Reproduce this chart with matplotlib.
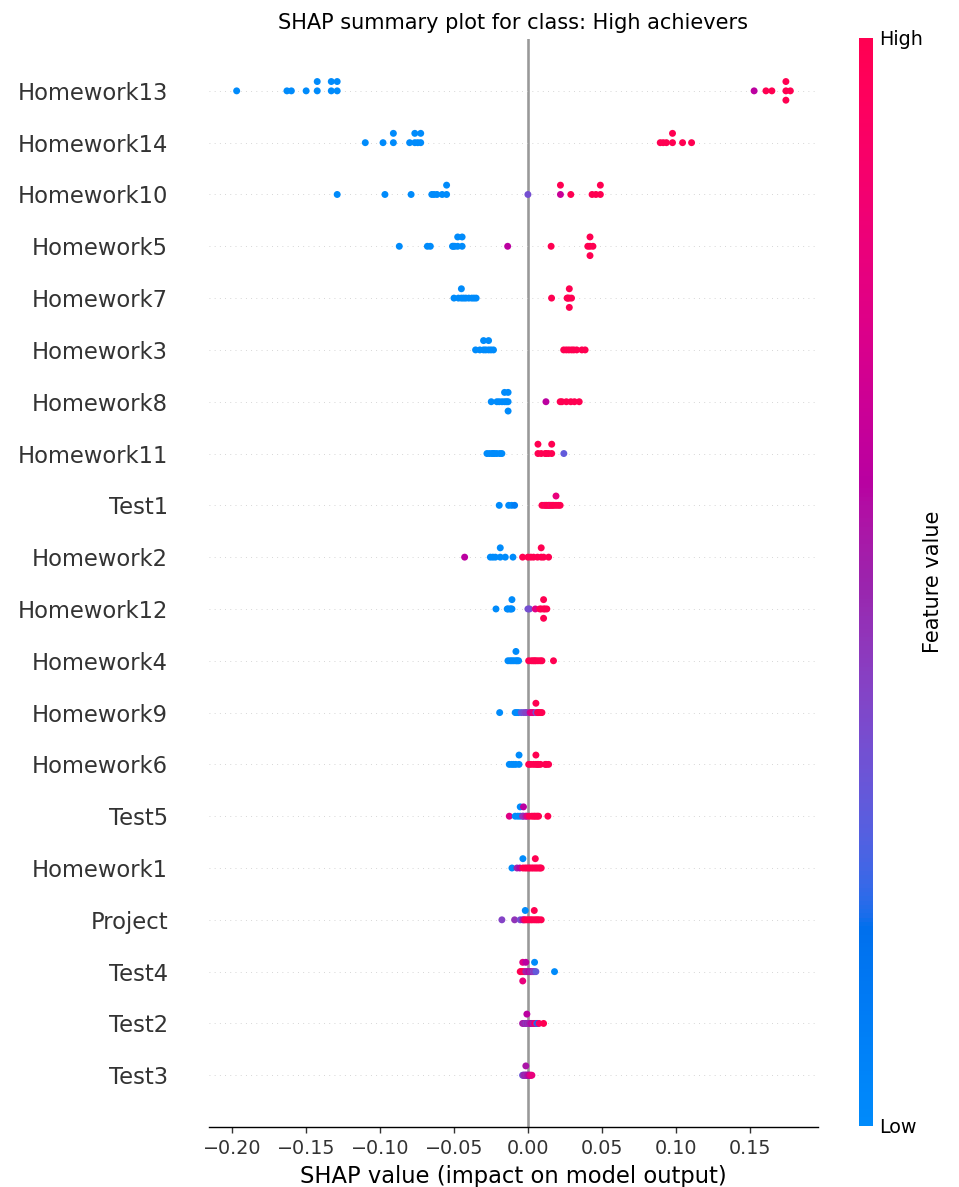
import numpy as np
import matplotlib
matplotlib.use("Agg")
import matplotlib.pyplot as plt
import matplotlib.cm as cm
from matplotlib.colors import LinearSegmentedColormap

# features, top row first
features = ["Homework13", "Homework14", "Homework10", "Homework5", "Homework7",
            "Homework3", "Homework8", "Homework11", "Test1", "Homework2",
            "Homework12", "Homework4", "Homework9", "Homework6", "Test5",
            "Homework1", "Project", "Test4", "Test2", "Test3"]

# shap values and (normalised) feature values, one pair per feature
hw13_shap = [-0.197, -0.163, -0.160, -0.150, -0.1425, -0.1425, -0.133, -0.133, -0.129, -0.129,
             0.153, 0.161, 0.165, 0.1745, 0.1745, 0.1745, 0.1775]
hw13_val = [0, 0, 0, 0, 0, 0, 0, 0, 0, 0, 0.6, 1, 1, 1, 1, 1, 1]

hw14_shap = [-0.110, -0.098, -0.091, -0.091, -0.080, -0.0765, -0.0765, -0.0745, -0.0725, -0.0725,
             0.0895, 0.0915, 0.0937, 0.0978, 0.0978, 0.1046, 0.1107]
hw14_val = [0, 0, 0, 0, 0, 0, 0, 0, 0, 0, 1, 1, 1, 1, 1, 1, 1]

hw10_shap = [-0.129, -0.0967, -0.079, -0.065, -0.0635, -0.0615, -0.058, -0.055, -0.055,
             0.0, 0.022, 0.022, 0.029, 0.0434, 0.046, 0.049, 0.049]
hw10_val = [0, 0, 0, 0, 0, 0, 0, 0, 0, 0.35, 0.65, 1, 1, 1, 1, 1, 1]

hw5_shap = [-0.087, -0.068, -0.066, -0.051, -0.0505, -0.0495, -0.0475, -0.0475, -0.0445, -0.0445,
            -0.0137, 0.0157, 0.0405, 0.042, 0.042, 0.042, 0.044]
hw5_val = [0, 0, 0, 0, 0, 0, 0, 0, 0, 0, 0.6, 1, 1, 1, 1, 1, 1]

hw7_shap = [-0.050, -0.047, -0.045, -0.045, -0.0435, -0.042, -0.040, -0.038, -0.0365, -0.035,
            0.016, 0.0265, 0.027, 0.028, 0.028, 0.028, 0.0295]
hw7_val = [0, 0, 0, 0, 0, 0, 0, 0, 0, 0, 1, 1, 1, 1, 1, 1, 1]

hw3_shap = [-0.0354, -0.0325, -0.030, -0.030, -0.0285, -0.0266, -0.0266, -0.025, -0.0233,
            0.0242, 0.026, 0.0277, 0.0295, 0.031, 0.033, 0.0365, 0.0387]
hw3_val = [0, 0, 0, 0, 0, 0, 0, 0, 0, 1, 1, 1, 1, 1, 1, 1, 1]

hw8_shap = [-0.0248, -0.021, -0.0194, -0.0175, -0.0158, -0.0158, -0.0145, -0.0134, -0.0134, -0.0134,
            0.0122, 0.0218, 0.023, 0.026, 0.029, 0.0315, 0.0347]
hw8_val = [0, 0, 0, 0, 0, 0, 0, 0, 0, 0, 0.6, 1, 1, 1, 1, 1, 1]

hw11_shap = [-0.0277, -0.026, -0.0243, -0.0235, -0.0225, -0.021, -0.019, -0.0176,
             0.0068, 0.0068, 0.009, 0.0117, 0.0125, 0.014, 0.0161, 0.0161, 0.0243]
hw11_val = [0, 0, 0, 0, 0, 0, 0, 0, 1, 1, 1, 1, 1, 1, 1, 1, 0.3]

test1_shap = [-0.0194, -0.013, -0.011, -0.009,
              0.0095, 0.011, 0.012, 0.0128, 0.014, 0.0145, 0.0155, 0.0165, 0.0175, 0.019, 0.019, 0.0205, 0.0218]
test1_val = [0, 0, 0, 0.1, 1, 1, 0.9, 1, 1, 1, 0.9, 1, 1, 1, 0.8, 1, 1]

hw2_shap = [-0.0428, -0.0254, -0.0237, -0.022, -0.0187, -0.0187, -0.0153, -0.0101,
            -0.0036, 0.0, 0.002, 0.0038, 0.0065, 0.009, 0.009, 0.0106, 0.014]
hw2_val = [0.6, 0, 0, 0, 0, 0, 0, 0, 1, 1, 1, 1, 1, 1, 1, 1, 1]

hw12_shap = [-0.0216, -0.014, -0.0135, -0.0122, -0.0115, -0.0108, -0.0108,
             0.0, 0.0011, 0.005, 0.008, 0.009, 0.0106, 0.0106, 0.0106, 0.0115, 0.0128]
hw12_val = [0, 0, 0, 0, 0, 0, 0, 0.35, 0.35, 0.75, 1, 1, 1, 1, 1, 1, 1]

hw4_shap = [-0.0135, -0.012, -0.0108, -0.0095, -0.0081, -0.0081, -0.0072, -0.0063,
            0.0005, 0.0023, 0.0035, 0.0045, 0.0054, 0.0068, 0.0083, 0.0095, 0.0173]
hw4_val = [0, 0, 0, 0, 0, 0, 0, 0, 1, 1, 1, 1, 1, 1, 1, 1, 1]

hw9_shap = [-0.0191, -0.0086, -0.0075, -0.0063, -0.0045, -0.0029, -0.0015, -0.0007,
            0.0015, 0.0028, 0.0038, 0.0054, 0.0054, 0.0065, 0.0072, 0.0083, 0.0095]
hw9_val = [0, 0, 0, 0, 0.3, 0.35, 0.4, 0.4, 0.7, 0.75, 0.8, 0.35, 1, 1, 1, 1, 1]

hw6_shap = [-0.0126, -0.011, -0.0097, -0.0082, -0.006, -0.006,
            0.0005, 0.002, 0.0038, 0.0054, 0.0054, 0.0065, 0.0072, 0.0085, 0.0117, 0.0125, 0.014]
hw6_val = [0, 0, 0, 0, 0, 0, 1, 1, 1, 1, 1, 1, 1, 1, 1, 1, 1]

test5_shap = [-0.0126, -0.0086, -0.0068, -0.0052, -0.0052, -0.0036, -0.003, -0.003, -0.0015,
              -0.0007, 0.001, 0.0027, 0.004, 0.005, 0.0062, 0.0072, 0.0135]
test5_val = [0.75, 0, 0, 0, 0, 0.45, 0.45, 0.6, 0.5, 0.75, 1, 1, 1, 1, 1, 1, 1]

hw1_shap = [-0.0108, -0.0074, -0.0055, -0.0034, -0.0034, -0.002, -0.0008, 0.0005, 0.0015,
            0.0027, 0.0038, 0.005, 0.005, 0.006, 0.0072, 0.0082, 0.009]
hw1_val = [0, 0.5, 0.6, 1, 0, 1, 1, 1, 1, 1, 1, 1, 1, 1, 1, 1, 1]

project_shap = [-0.0176, -0.009, -0.0052, -0.0035, -0.0027, -0.0018, -0.0018, -0.0005, 0.0008,
                0.002, 0.003, 0.0043, 0.0043, 0.0055, 0.0065, 0.0075, 0.009]
project_val = [0.4, 0.45, 0.35, 0.5, 0.7, 1, 0, 1, 1, 1, 1, 1, 1, 1, 1, 1, 1]

test4_shap = [-0.0052, -0.0045, -0.0035, -0.0035, -0.0035, -0.0024, -0.0014, -0.0014, -0.0004,
              0.0008, 0.0018, 0.0027, 0.0036, 0.0045, 0.0045, 0.0054, 0.018]
test4_val = [1, 1, 1, 0.75, 0.8, 1, 0.5, 0.6, 0.55, 0.6, 0.5, 0.55, 0.4, 0.45, 0, 0.3, 0]

test2_shap = [-0.0036, -0.0027, -0.0018, -0.0012, -0.0007, -0.0007, 0.0002, 0.001, 0.0018,
              0.0026, 0.0034, 0.0042, 0.005, 0.0058, 0.0065, 0.0075, 0.0106]
test2_val = [0.55, 0.5, 0.5, 0.4, 0.5, 0.6, 0.45, 0.5, 0.55, 0.6, 0.5, 0.7, 1, 0.45, 0.1, 0.9, 1]

test3_shap = [-0.0036, -0.0032, -0.0028, -0.0024, -0.002, -0.0016, -0.0014, -0.0014, -0.001,
              -0.0006, -0.0002, 0.0002, 0.0006, 0.001, 0.0015, 0.002, 0.0027]
test3_val = [0.3, 0.4, 0.45, 0.5, 0.45, 0.5, 0.5, 0.55, 0.45, 0.5, 0.55, 0.5, 0.6, 0.6, 0.7, 0.75, 0.8]

rows = [(hw13_shap, hw13_val), (hw14_shap, hw14_val), (hw10_shap, hw10_val), (hw5_shap, hw5_val),
        (hw7_shap, hw7_val), (hw3_shap, hw3_val), (hw8_shap, hw8_val), (hw11_shap, hw11_val),
        (test1_shap, test1_val), (hw2_shap, hw2_val), (hw12_shap, hw12_val), (hw4_shap, hw4_val),
        (hw9_shap, hw9_val), (hw6_shap, hw6_val), (test5_shap, test5_val), (hw1_shap, hw1_val),
        (project_shap, project_val), (test4_shap, test4_val), (test2_shap, test2_val),
        (test3_shap, test3_val)]


def lch2rgb(lch):
    L, C, H = lch
    a = C * np.cos(H)
    b = C * np.sin(H)
    fy = (L + 16) / 116.
    f = np.array([a / 500. + fy, fy, fy - b / 200.])
    xyz = np.where(f ** 3 > 0.008856, f ** 3, (f - 16 / 116.) / 7.787)
    xyz *= np.array([0.95047, 1.0, 1.08883])
    M = np.array([[3.240481340, -1.53715152, -0.49853633],
                  [-0.96925495, 1.87599000, 0.04155593],
                  [0.05564664, -0.20404134, 1.05731107]])
    rgb = M @ xyz
    rgb = np.where(rgb > 0.0031308, 1.055 * np.power(np.clip(rgb, 1e-12, None), 1 / 2.4) - 0.055, 12.92 * rgb)
    return np.clip(rgb, 0, 1)


# shap style red/blue colormap (interpolated in LCh)
blue_lch = [54., 70., 4.6588]
red_lch = [54., 90., 0.35470565 + 2 * np.pi]
l_mid = 40.
nsteps = 100
l_vals = list(np.linspace(blue_lch[0], l_mid, nsteps // 2)) + list(np.linspace(l_mid, red_lch[0], nsteps // 2))
c_vals = np.linspace(blue_lch[1], red_lch[1], nsteps)
h_vals = np.linspace(blue_lch[2], red_lch[2], nsteps)
stops = [(p, lch2rgb([l, c, h])) for p, l, c, h in zip(np.linspace(0, 1, nsteps), l_vals, c_vals, h_vals)]
red_blue = LinearSegmentedColormap.from_list("red_blue", stops)

axis_color = "#333333"
row_height = 0.4
nbins = 100

fig = plt.figure(figsize=(959 / 125, 1187 / 125), dpi=125)
ax = fig.add_axes([0.2179, 0.0505, 0.6351, 0.9166])

ax.axvline(x=0, color="#999999", zorder=-1)
n = len(features)
for i, (shaps, vals) in enumerate(rows):
    pos = n - 1 - i
    ax.axhline(y=pos, color="#cccccc", lw=0.5, dashes=(1, 5), zorder=-1)
    shaps = np.array(shaps)
    vals = np.array(vals, dtype=float)
    # beeswarm stacking like shap
    quant = np.round(nbins * (shaps - shaps.min()) / (shaps.max() - shaps.min() + 1e-8))
    inds = np.argsort(quant, kind="stable")
    layer = 0
    last_bin = -1
    ys = np.zeros(len(shaps))
    for ind in inds:
        if quant[ind] != last_bin:
            layer = 0
        ys[ind] = np.ceil(layer / 2) * ((layer % 2) * 2 - 1)
        layer += 1
        last_bin = quant[ind]
    ys *= 0.9 * (row_height / np.max(ys + 1))
    ax.scatter(shaps, pos + ys, c=vals, cmap=red_blue, vmin=0, vmax=1, s=16,
               linewidth=0, zorder=3)

ax.set_title("SHAP summary plot for class: High achievers", fontsize=12)
ax.xaxis.set_ticks_position("bottom")
ax.yaxis.set_ticks_position("none")
for side in ["right", "top", "left"]:
    ax.spines[side].set_visible(False)
ax.tick_params(color=axis_color, labelcolor=axis_color)
ax.set_yticks(range(n))
ax.set_yticklabels(list(reversed(features)), fontsize=13)
ax.tick_params("y", length=20, width=0.5, which="major")
ax.tick_params("x", labelsize=11)
ax.set_ylim(-1, n)
ax.set_xlabel("SHAP value (impact on model output)", fontsize=13)

cax = fig.add_axes([0.8957, 0.0514, 0.0146, 0.9166])
m = cm.ScalarMappable(cmap=red_blue)
m.set_array([0, 1])
cb = fig.colorbar(m, cax=cax, ticks=[0, 1])
cb.set_ticklabels(["Low", "High"])
cb.set_label("Feature value", size=12, labelpad=0)
cb.ax.tick_params(labelsize=11, length=0)
cb.outline.set_visible(False)

fig.savefig("out.png", dpi=125)
